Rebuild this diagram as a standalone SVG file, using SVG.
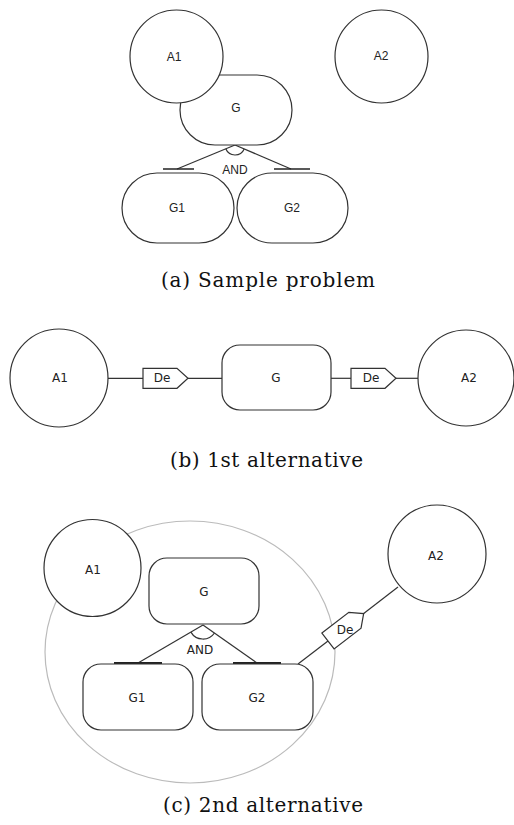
<svg xmlns="http://www.w3.org/2000/svg" width="514" height="825" viewBox="0 0 514 825">
<defs>
<style>
.shape{fill:#fff;stroke:#333;stroke-width:1.2}
.line{fill:none;stroke:#333;stroke-width:1.2}
.bar{fill:none;stroke:#222;stroke-width:2}
.gray{fill:none;stroke:#bbb;stroke-width:1.2}
.ta{font-family:"Liberation Sans",Arial,sans-serif;font-size:12px;fill:#222;text-anchor:middle;dominant-baseline:central}
.tb{font-family:"DejaVu Sans",sans-serif;font-size:12px;fill:#222;text-anchor:middle;dominant-baseline:central}
.cap{font-family:"DejaVu Serif","Liberation Serif",serif;font-size:20px;fill:#111}
</style>
<polygon id="de" points="0,-10 34,-10 45,0 34,10 0,10"/>
</defs>

<!-- Panel (a) -->
<g id="connectors-a">
<line class="line" x1="235" y1="145" x2="177" y2="169"/>
<line class="line" x1="235" y1="145" x2="291" y2="169"/>
<path class="line" d="M225.8 148.8 A10 10 0 0 0 244.2 149"/>
<line class="bar" x1="163" y1="169" x2="194" y2="169" style="stroke-width:1.5"/>
<line class="bar" x1="274" y1="169" x2="310" y2="169" style="stroke-width:1.5"/>
</g>
<g id="a-G"><rect class="shape" x="180" y="75" width="112" height="70" rx="35"/><text class="ta" x="236" y="108">G</text></g>
<g id="a-A1"><circle class="shape" cx="176.5" cy="56.5" r="46.5"/><text class="ta" x="174" y="57">A1</text></g>
<g id="a-A2"><circle class="shape" cx="381.5" cy="56.5" r="46.5"/><text class="ta" x="381" y="56">A2</text></g>
<g id="a-G1"><rect class="shape" x="122" y="173" width="112" height="70" rx="35"/><text class="ta" x="177" y="208">G1</text></g>
<g id="a-G2"><rect class="shape" x="237" y="173" width="111" height="70" rx="35"/><text class="ta" x="292" y="208">G2</text></g>
<text class="ta" x="235" y="170">AND</text>
<text class="cap" x="161" y="287" textLength="214">(a) Sample problem</text>

<!-- Panel (b) -->
<g id="connectors-b">
<line class="line" x1="108" y1="378.3" x2="143" y2="378.3"/>
<line class="line" x1="188" y1="378.3" x2="222" y2="378.3"/>
<line class="line" x1="331" y1="378.3" x2="351" y2="378.3"/>
<line class="line" x1="396" y1="378.3" x2="418" y2="378.3"/>
<g id="b-De1"><use href="#de" class="shape" transform="translate(143,378.3)"/><text class="tb" x="162" y="378.3">De</text></g>
<g id="b-De2"><use href="#de" class="shape" transform="translate(351,378.3)"/><text class="tb" x="371" y="378.3">De</text></g>
</g>
<g id="b-A1"><circle class="shape" cx="59" cy="378" r="49"/><text class="tb" x="60" y="378.3">A1</text></g>
<g id="b-G"><rect class="shape" x="222" y="345" width="109" height="65" rx="18"/><text class="tb" x="276" y="378.3">G</text></g>
<g id="b-A2"><circle class="shape" cx="466" cy="378" r="48"/><text class="tb" x="469" y="378.3">A2</text></g>
<text class="cap" x="170" y="467" textLength="193">(b) 1st alternative</text>

<!-- Panel (c) -->
<g id="c-boundary"><ellipse class="gray" cx="190" cy="652" rx="145" ry="131"/></g>
<g id="c-A1"><circle class="shape" cx="92.5" cy="568" r="48.5"/><text class="tb" x="93" y="570">A1</text></g>
<g id="connectors-c">
<line class="line" x1="203" y1="625" x2="138" y2="663"/>
<line class="line" x1="203" y1="625" x2="257" y2="663"/>
<path class="line" d="M190.9 632.1 A14 14 0 0 0 214.5 633"/>
<line class="bar" x1="114" y1="663" x2="162" y2="663"/>
<line class="bar" x1="233" y1="663" x2="281" y2="663"/>
<line class="line" x1="298" y1="664" x2="328" y2="641"/>
<line class="line" x1="363.7" y1="613.5" x2="398" y2="587"/>
<g id="c-De"><use href="#de" class="shape" transform="translate(328,641) rotate(-37.6)"/><text class="tb" x="345" y="630">De</text></g>
</g>
<g id="c-G"><rect class="shape" x="149" y="558" width="110" height="66" rx="18"/><text class="tb" x="204" y="592">G</text></g>
<g id="c-G1"><rect class="shape" x="83" y="664" width="110" height="66" rx="18"/><text class="tb" x="137" y="698">G1</text></g>
<g id="c-G2"><rect class="shape" x="202" y="664" width="111" height="66" rx="18"/><text class="tb" x="257" y="698">G2</text></g>
<g id="c-A2"><circle class="shape" cx="437" cy="554" r="49"/><text class="tb" x="436" y="556">A2</text></g>
<text class="tb" x="200" y="650">AND</text>
<text class="cap" x="163" y="812" textLength="200">(c) 2nd alternative</text>
</svg>
